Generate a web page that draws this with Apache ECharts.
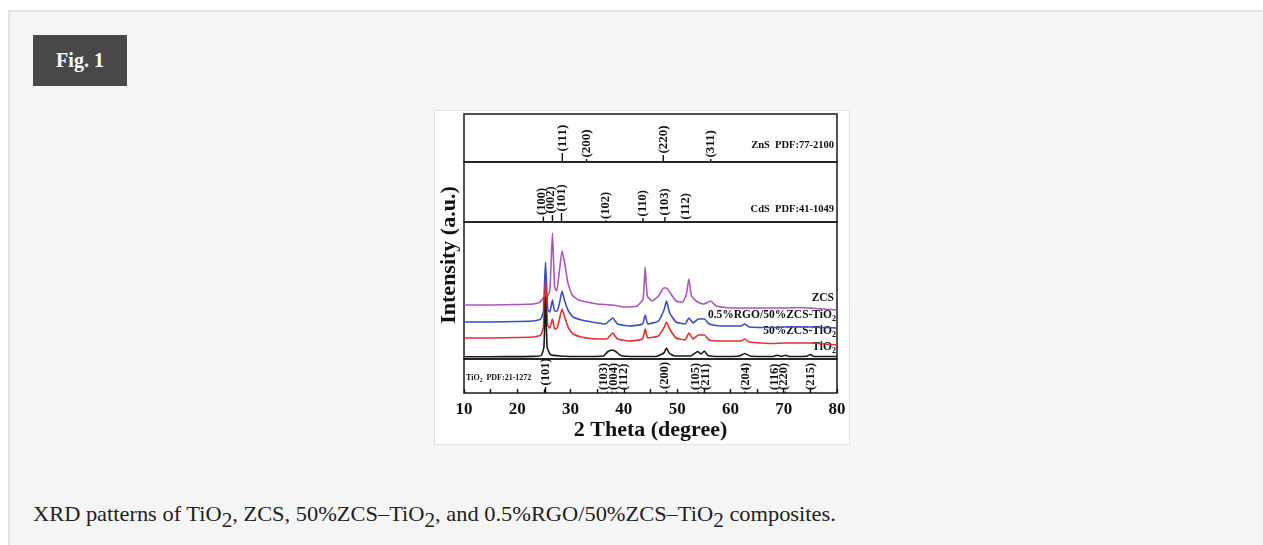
<html>
<head>
<meta charset="utf-8" />
<style>
    body { margin: 0; background: #fff; width: 1263px; height: 545px; overflow: hidden; position: relative; font-family: "Liberation Serif", serif; }
    .panel { position: absolute; left: 8px; top: 10px; right: 0; bottom: -20px; background: #f5f5f5; border-top: 2px solid #e3e3e3; border-left: 2px solid #e3e3e3; }
    .figtag { position: absolute; left: 33px; top: 35px; width: 94px; height: 51px; background: #484848; color: #fff; font-weight: bold; font-size: 20px; line-height: 51px; text-align: center; }
    .cap { position: absolute; left: 33px; top: 502px; font-family: "Liberation Serif", "Times New Roman", serif; font-size: 21px; line-height: 24px; color: #222; white-space: nowrap; transform: scaleX(1.067); transform-origin: 0 0; }
    .cap sub { font-size: 0.95em; vertical-align: -0.3em; line-height: 0; }
    #xrd { position: absolute; left: 435px; top: 111px; width: 414px; height: 333px; background: #fff; box-shadow: 0 0 0 1px #e2e2e2; }
</style>
<script src="https://cdn.jsdelivr.net/npm/echarts@6/dist/echarts.min.js"></script>
</head>
<body>
<div class="panel"></div>
<div class="figtag">Fig. 1</div>
<div id="xrd"></div>
<div class="cap">XRD patterns of TiO<sub>2</sub>, ZCS, 50%ZCS&#8211;TiO<sub>2</sub>, and 0.5%RGO/50%ZCS&#8211;TiO<sub>2</sub> composites.</div>
<script type="text/javascript">
    /* standard patterns: [2theta, stick height, label position] */
    var znsSticks = [[28.45, 9, 28.45], [33.0, 3, 33.0], [47.4, 7, 47.4], [56.3, 3, 56.3]];
    var znsLabels = ['(111)', '(200)', '(220)', '(311)'];
    var cdsSticks = [[24.9, 5.5, 24.6], [26.6, 7, 26.3], [28.3, 9, 28.4], [36.6, 1.5, 36.6],
        [43.6, 4, 43.6], [47.7, 5, 47.7], [51.7, 1, 51.7]];
    var cdsLabels = ['(100)', '(002)', '(101)', '(102)', '(110)', '(103)', '(112)'];
    var tioSticks = [[25.3, 6, 25.3], [36.9, 1.5, 36.2], [37.8, 1.5, 38.1], [38.6, 1.5, 40.0],
        [48.0, 2.5, 47.6], [53.9, 1.5, 53.5], [55.1, 1.5, 55.3], [62.7, 1.5, 62.8],
        [68.8, 1.5, 68.3], [70.3, 1.5, 70.0], [75.0, 1.5, 75.0]];
    var tioLabels = ['(101)', '(103)', '(004)', '(112)', '(200)', '(105)', '(211)', '(204)', '(116)', '(220)', '(215)'];

    /* measured patterns (offset intensity, a.u.) */
    var zcs = [[10, 54], [15, 54], [20, 54.5], [23, 55], [24.3, 57], [24.9, 61], [25.5, 62], [26.1, 68], [26.6, 126],
        [27.0, 72], [27.4, 68], [27.9, 88], [28.4, 108], [28.9, 96], [29.5, 76], [30.3, 64], [31.5, 59], [33, 57],
        [35, 55], [37.9, 54], [40, 52], [42.5, 53], [43.6, 60], [44.0, 92], [44.4, 63], [45.3, 58], [46.5, 63],
        [47.5, 71], [48.0, 71], [48.7, 66], [49.8, 58], [51, 57], [51.7, 64], [52.2, 80], [52.7, 63], [53.8, 57],
        [55, 55], [56.3, 58], [57.3, 53], [60, 51], [65, 51], [70, 51], [73, 51.5], [76, 50.5], [80, 49]];
    var rgoZcsTio = [[10, 37], [15, 37], [20, 37.5], [23, 38], [24.4, 40], [24.9, 48], [25.3, 97], [25.7, 50],
        [26.1, 47], [26.6, 59], [27.0, 48], [27.5, 48], [28.0, 58], [28.4, 68], [28.9, 58], [29.6, 48], [30.5, 42],
        [32, 39], [34, 37], [36.5, 35], [37.9, 41], [38.8, 35], [41, 33], [43.5, 35], [44.0, 44], [44.5, 35],
        [46.5, 38], [47.6, 50], [48.0, 58], [48.6, 46], [49.8, 37], [51.5, 35], [52.2, 41], [53, 36], [54, 40],
        [55.1, 40], [56, 35], [58, 33], [62, 33], [62.7, 35], [63.5, 32], [68, 31.5], [70, 32], [75, 32], [80, 31]];
    var zcsTio = [[10, 21], [15, 21], [20, 21.5], [23, 22], [24.4, 24], [24.9, 32], [25.3, 79], [25.7, 34],
        [26.1, 31], [26.6, 40], [27.0, 30], [27.5, 31], [28.0, 42], [28.4, 50], [28.9, 42], [29.6, 31], [30.5, 25],
        [32, 22], [35, 20], [36.8, 20], [37.9, 26], [38.8, 20], [41, 18], [43.5, 20], [44.0, 30], [44.5, 21],
        [46.5, 23], [47.6, 32], [48.0, 37], [48.6, 30], [49.8, 21], [51.5, 19], [52.2, 26], [53, 20], [54, 24],
        [55.1, 24], [56, 19], [58, 18], [62, 18], [62.7, 20], [63.5, 17], [68, 15.5], [70, 16], [75, 16], [80, 14]];
    var tio2 = [[10, 2.3], [15, 2.3], [20, 2.4], [23, 2.6], [24.5, 3.5], [25.0, 12], [25.3, 62], [25.6, 12],
        [26.2, 4.5], [28, 3], [32, 2.5], [36.2, 3], [36.9, 7], [37.8, 9], [38.6, 7], [39.4, 3.5], [42, 2.5],
        [46, 2.5], [47.5, 6], [48.0, 11], [48.5, 6], [49.5, 3], [52.5, 3], [53.9, 7.5], [54.5, 5], [55.1, 8],
        [55.8, 3.5], [58, 2.5], [61.5, 2.7], [62.7, 5.5], [63.8, 2.7], [68, 2.5], [68.8, 3.8], [69.5, 2.7],
        [70.3, 3.8], [71, 2.5], [74.3, 2.7], [75.0, 4.5], [75.7, 2.5], [80, 2.5]];

    var serif = '"Liberation Serif", "Times New Roman", serif';
    var chart = echarts.init(document.getElementById('xrd'));

    function stickSeries(gridIdx, sticks, labels, fontSize) {
        return {
            type: 'custom',
            xAxisIndex: gridIdx,
            yAxisIndex: gridIdx,
            data: sticks,
            silent: true,
            renderItem: function (params, api) {
                var p0 = api.coord([api.value(0), 0]);
                var p1 = api.coord([api.value(0), api.value(1)]);
                var pl = api.coord([api.value(2), api.value(1)]);
                return {
                    type: 'group',
                    children: [{
                        type: 'line',
                        shape: { x1: p0[0], y1: p0[1], x2: p1[0], y2: p1[1] },
                        style: { stroke: '#111', lineWidth: 1.4 }
                    }, {
                        type: 'text',
                        x: pl[0],
                        y: p1[1] - 1.5,
                        rotation: Math.PI / 2,
                        style: {
                            text: labels[params.dataIndex],
                            fill: '#111',
                            font: 'bold ' + fontSize + 'px ' + serif,
                            align: 'left',
                            verticalAlign: 'middle'
                        }
                    }]
                };
            }
        };
    }

    function curve(name, data, color) {
        return {
            name: name,
            type: 'line',
            xAxisIndex: 2,
            yAxisIndex: 2,
            data: data,
            showSymbol: false,
            smooth: 0.15,
            silent: true,
            lineStyle: { color: color, width: 1.6 },
            itemStyle: { color: color }
        };
    }

    var grids = [
        { left: 29, right: 12, top: 3, height: 48 },
        { left: 29, right: 12, top: 51, height: 60 },
        { left: 29, right: 12, top: 111, height: 137 },
        { left: 29, right: 12, top: 248, height: 34 }
    ];
    var yMax = [48, 60, 137, 34];

    function txt(x, y, text, align, size, extra) {
        var el = {
            type: 'text',
            x: x,
            y: y,
            silent: true,
            style: {
                text: text,
                fill: '#111',
                font: 'bold ' + size + 'px ' + serif,
                align: align,
                textAlign: align,
                verticalAlign: 'middle',
                textVerticalAlign: 'middle',
                rich: {
                    s: { fontSize: size * 0.7, fontWeight: 'bold', fontFamily: serif, fill: '#111', padding: [size * 0.75, 0, 0, 0] }
                }
            }
        };
        if (extra) { el.rotation = extra; }
        return el;
    }

    var option = {
        animation: false,
        backgroundColor: '#fff',
        grid: grids.map(function (g) {
            return Object.assign({ show: true, borderColor: '#1a1a1a', borderWidth: 1.5, backgroundColor: 'transparent' }, g);
        }),
        xAxis: [0, 1, 2, 3].map(function (i) {
            return {
                gridIndex: i,
                type: 'value',
                min: 10,
                max: 80,
                interval: 5,
                axisLine: { show: false },
                splitLine: { show: false },
                axisTick: { show: i === 3, inside: true, length: 4, lineStyle: { color: '#111', width: 1.4 } },
                axisLabel: {
                    show: i === 3,
                    margin: 8,
                    color: '#111',
                    fontSize: 17,
                    fontWeight: 'bold',
                    fontFamily: serif,
                    formatter: function (v) { return v % 10 === 0 ? String(v) : ''; }
                },
                name: i === 3 ? '2 Theta (degree)' : '',
                nameLocation: 'middle',
                nameGap: 24,
                nameTextStyle: { color: '#111', fontSize: 22, fontWeight: 'bold', fontFamily: serif }
            };
        }),
        yAxis: [0, 1, 2, 3].map(function (i) {
            return { gridIndex: i, type: 'value', min: 0, max: yMax[i], show: false, splitLine: { show: false } };
        }),
        series: [
            stickSeries(0, znsSticks, znsLabels, 13),
            stickSeries(1, cdsSticks, cdsLabels, 12.5),
            stickSeries(3, tioSticks, tioLabels, 12.5),
            curve('ZCS', zcs, '#aa58b6'),
            curve('0.5%RGO/50%ZCS-TiO2', rgoZcsTio, '#3a4cc6'),
            curve('50%ZCS-TiO2', zcsTio, '#e2302f'),
            curve('TiO2', tio2, '#1a1a1a')
        ],
        graphic: [
            txt(14, 144, 'Intensity (a.u.)', 'center', 22, Math.PI / 2),
            txt(399, 34, 'ZnS  PDF:77-2100', 'right', 10.5),
            txt(399, 98, 'CdS  PDF:41-1049', 'right', 10.5),
            txt(399, 187, 'ZCS', 'right', 11.5),
            txt(401, 204, '0.5%RGO/50%ZCS-TiO{s|2}', 'right', 11.5),
            txt(401, 220, '50%ZCS-TiO{s|2}', 'right', 11.5),
            txt(401, 236, 'TiO{s|2}', 'right', 11.5),
            txt(31, 267, 'TiO{s|2}  PDF:21-1272', 'left', 8)
        ]
    };
    chart.setOption(option);
</script>
</body>
</html>
